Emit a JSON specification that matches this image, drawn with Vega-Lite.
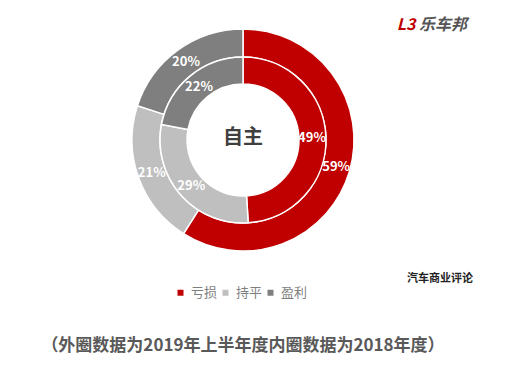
{
  "$schema": "https://vega.github.io/schema/vega-lite/v6.json",
  "autosize": "none",
  "width": 486,
  "height": 280,
  "padding": {"left": 0, "top": 0, "right": 22, "bottom": 89},
  "background": "white",
  "config": {"view": {"stroke": null}, "font": "Noto Sans CJK SC"},
  "title": {
    "text": "（外圈数据为2019年上半年度内圈数据为2018年度）",
    "orient": "bottom",
    "anchor": "middle",
    "offset": 38,
    "fontSize": 17,
    "fontWeight": "bold",
    "color": "#595959",
    "font": "Noto Sans CJK SC"
  },
  "data": {
    "values": [
      {"ring": "外圈", "category": "亏损", "ord": 1, "value": 59, "label": "59%"},
      {"ring": "外圈", "category": "持平", "ord": 2, "value": 21, "label": "21%"},
      {"ring": "外圈", "category": "盈利", "ord": 3, "value": 20, "label": "20%"},
      {"ring": "内圈", "category": "亏损", "ord": 1, "value": 49, "label": "49%"},
      {"ring": "内圈", "category": "持平", "ord": 2, "value": 29, "label": "29%"},
      {"ring": "内圈", "category": "盈利", "ord": 3, "value": 22, "label": "22%"}
    ]
  },
  "encoding": {
    "theta": {"field": "value", "type": "quantitative", "stack": true},
    "order": {"field": "ord", "type": "quantitative"},
    "color": {
      "field": "category",
      "type": "nominal",
      "scale": {"domain": ["亏损", "持平", "盈利"], "range": ["#c00000", "#bfbfbf", "#7f7f7f"]},
      "legend": {
        "title": null,
        "orient": "none",
        "direction": "horizontal",
        "legendX": 174,
        "legendY": 286,
        "symbolType": "square",
        "symbolSize": 36,
        "symbolStrokeWidth": 0,
        "labelFontSize": 13,
        "labelColor": "#7f7f7f",
        "labelFont": "Noto Sans CJK SC",
        "labelOffset": 4,
        "columnPadding": 1
      }
    }
  },
  "layer": [
    {
      "transform": [{"filter": "datum.ring === '外圈'"}],
      "mark": {"type": "arc", "radius": 111, "radius2": 83, "stroke": "white", "strokeWidth": 1.5}
    },
    {
      "transform": [{"filter": "datum.ring === '内圈'"}],
      "mark": {"type": "arc", "radius": 83, "radius2": 56, "stroke": "white", "strokeWidth": 1.5}
    },
    {
      "transform": [{"filter": "datum.ring === '外圈'"}],
      "mark": {"type": "text", "radius": 97, "fontSize": 13, "fontWeight": "bold", "fill": "white", "font": "Noto Sans CJK SC"},
      "encoding": {"text": {"field": "label"}, "color": {"value": "white"}}
    },
    {
      "transform": [{"filter": "datum.ring === '内圈'"}],
      "mark": {"type": "text", "radius": 69, "fontSize": 13, "fontWeight": "bold", "fill": "white", "font": "Noto Sans CJK SC"},
      "encoding": {"text": {"field": "label"}, "color": {"value": "white"}}
    },
    {
      "data": {"values": [{"t": "自主"}]},
      "mark": {"type": "text", "fontSize": 20, "fontWeight": "bold", "font": "Noto Sans CJK SC", "dy": -2},
      "encoding": {"text": {"field": "t"}, "color": {"value": "#404040"}, "theta": null, "order": null}
    },
    {
      "data": {"values": [{"t": "L3"}]},
      "mark": {"type": "text", "fontSize": 16, "fontWeight": "bold", "fontStyle": "italic", "font": "Noto Sans CJK SC", "dx": 163, "dy": -115},
      "encoding": {"text": {"field": "t"}, "color": {"value": "#c00000"}, "theta": null, "order": null}
    },
    {
      "data": {"values": [{"t": "乐车邦"}]},
      "mark": {"type": "text", "fontSize": 16, "fontWeight": "bold", "fontStyle": "italic", "font": "Noto Sans CJK SC", "dx": 200, "dy": -115},
      "encoding": {"text": {"field": "t"}, "color": {"value": "#555555"}, "theta": null, "order": null}
    },
    {
      "data": {"values": [{"t": "汽车商业评论"}]},
      "mark": {"type": "text", "fontSize": 11, "fontWeight": "bold", "font": "Noto Sans CJK SC", "dx": 197, "dy": 139},
      "encoding": {"text": {"field": "t"}, "color": {"value": "#222222"}, "theta": null, "order": null}
    }
  ]
}
